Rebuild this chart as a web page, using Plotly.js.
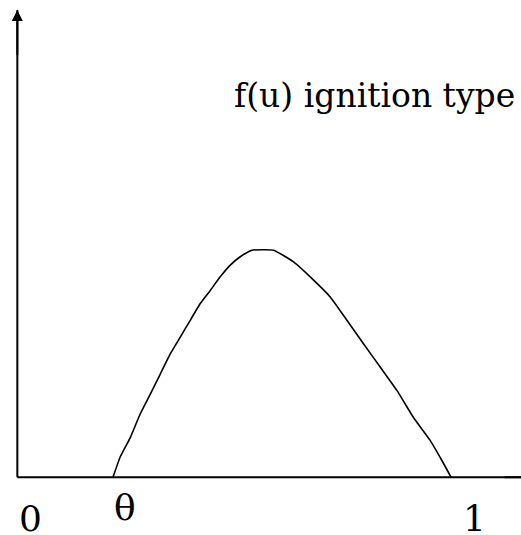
<!DOCTYPE html>
<html>
<head>
<meta charset="utf-8">
<script src="https://cdn.plot.ly/plotly-3.0.1.min.js"></script>
<style>
  html, body { margin: 0; padding: 0; background: #fff; }
  #chart { width: 521px; height: 535px; }
</style>
</head>
<body>
<div id="chart"></div>
<script>
// Ignition-type reaction term f(u): zero below the threshold theta, a single hump on (theta, 1)
const uValues = [0.2205, 0.2373, 0.2604, 0.2834, 0.3065, 0.3295, 0.3525, 0.3756, 0.3986, 0.4217,
                 0.4447, 0.4677, 0.4908, 0.5138, 0.5408, 0.5645, 0.5906, 0.6366, 0.6751, 0.7212,
                 0.7597, 0.7979, 0.8364, 0.8749, 0.9131, 0.9516, 0.9786, 1.0000];
const fValues = [0.000, 0.044, 0.085, 0.136, 0.178, 0.221, 0.264, 0.300, 0.336, 0.372,
                 0.400, 0.429, 0.454, 0.472, 0.486, 0.487, 0.486, 0.461, 0.429, 0.386,
                 0.336, 0.286, 0.236, 0.186, 0.128, 0.079, 0.036, 0.000];

// Labels under the u axis: origin, threshold and the right end
const tickU = [0.030, 0.249, 1.054];
const tickText = ['0', 'θ', '1'];

const curveLabel = 'f(u) ignition type';

const serif = 'DejaVu Serif, Liberation Serif, serif';

const U_MAX = 1.161;   // right edge of the u axis
const F_MAX = 1.0;     // top of the f axis

const traces = [{
  x: uValues,
  y: fValues,
  type: 'scatter',
  mode: 'lines',
  line: { color: '#000', width: 1.6, shape: 'spline', smoothing: 0.5 },
  hoverinfo: 'skip',
  showlegend: false
}];

// the threshold letter sits a little higher than the digits
const labelY = t => (t === 'θ' ? -0.054 : -0.077);

const annotations = tickU.map((u, i) => ({
  x: u, y: labelY(tickText[i]), xref: 'x', yref: 'paper',
  text: tickText[i], showarrow: false,
  xanchor: 'center', yanchor: 'middle',
  font: { family: serif, size: 36, color: '#000' }
}));

annotations.push({
  x: 0.495, y: 0.818, xref: 'x', yref: 'y',
  text: curveLabel, showarrow: false,
  xanchor: 'left', yanchor: 'middle',
  font: { family: serif, size: 33, color: '#000' }
});

// arrowheads at the ends of the two axes
annotations.push({
  x: 0, y: F_MAX, ax: 0, ay: 0.9, xref: 'x', yref: 'y', axref: 'x', ayref: 'y',
  text: '', showarrow: true, arrowhead: 2, arrowsize: 1.1, arrowwidth: 2, arrowcolor: '#000'
});
annotations.push({
  x: 1.19, y: 0, ax: 1.12, ay: 0, xref: 'x', yref: 'y', axref: 'x', ayref: 'y',
  text: '', showarrow: true, arrowhead: 2, arrowsize: 1.1, arrowwidth: 2, arrowcolor: '#000'
});

// the two axes, starting at the origin
const shapes = [
  { type: 'line', xref: 'x', yref: 'y', x0: 0, y0: 0, x1: U_MAX, y1: 0, line: { color: '#000', width: 2 } },
  { type: 'line', xref: 'x', yref: 'y', x0: 0, y0: 0, x1: 0, y1: F_MAX, line: { color: '#000', width: 2 } }
];

const layout = {
  width: 521, height: 535,
  margin: { l: 13, r: 0, t: 10, b: 53 },
  paper_bgcolor: '#fff', plot_bgcolor: '#fff',
  showlegend: false,
  xaxis: {
    range: [-0.01, U_MAX], showgrid: false, showline: false, zeroline: false,
    showticklabels: false, ticks: '', fixedrange: true
  },
  yaxis: {
    range: [-0.01, F_MAX], showgrid: false, showline: false, zeroline: false,
    showticklabels: false, ticks: '', fixedrange: true
  },
  shapes: shapes,
  annotations: annotations
};

Plotly.newPlot('chart', traces, layout, { displayModeBar: false, staticPlot: true });
</script>
</body>
</html>
